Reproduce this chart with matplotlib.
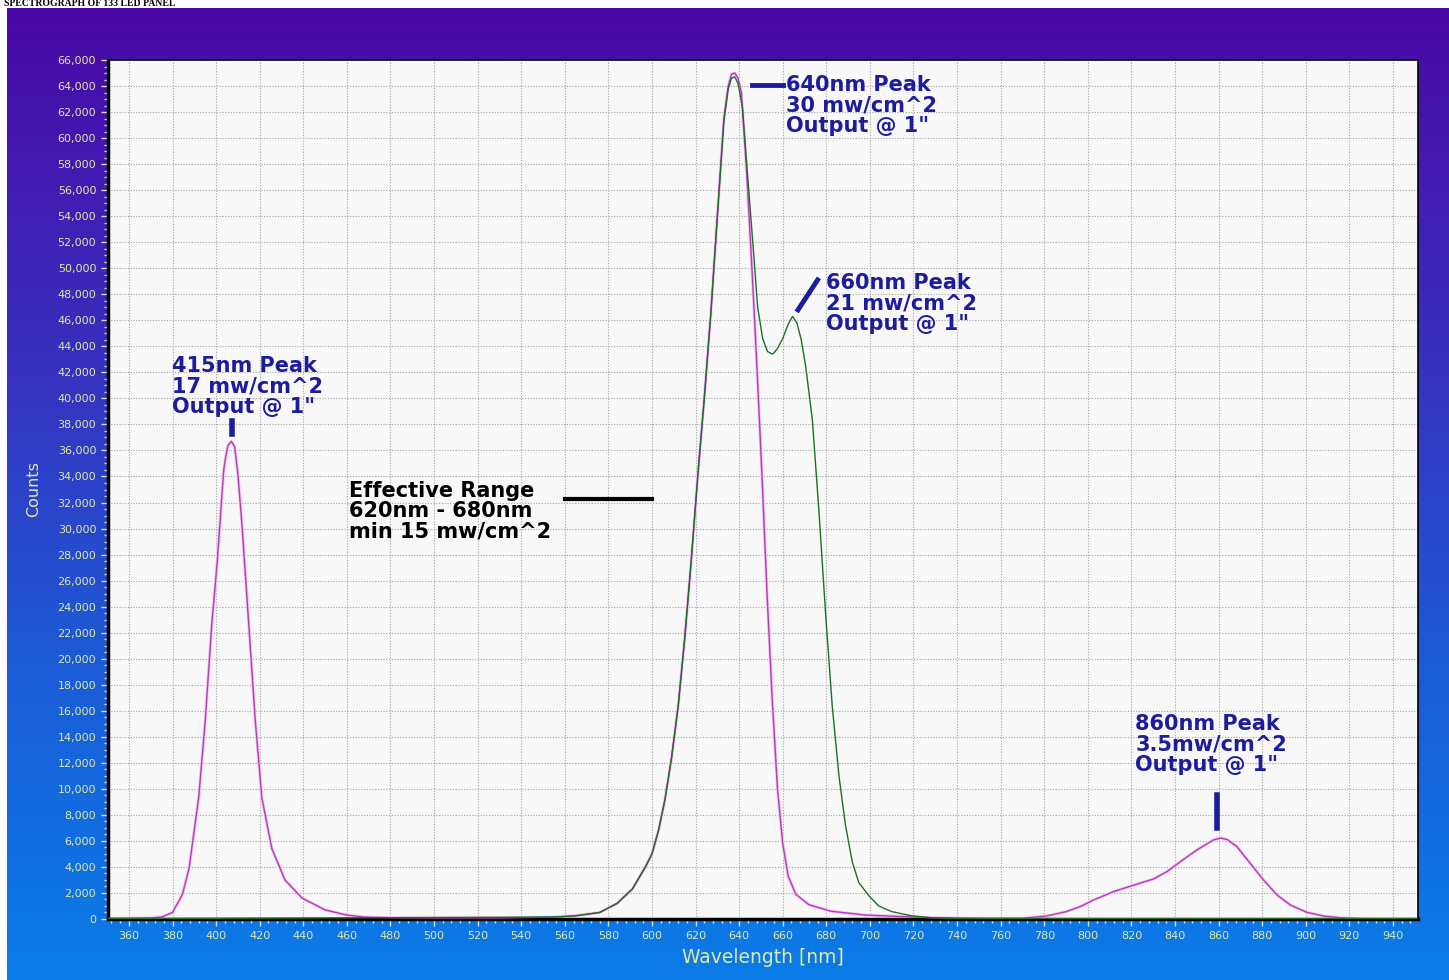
import numpy as np
import matplotlib.pyplot as plt
from matplotlib.ticker import MultipleLocator, FuncFormatter
from matplotlib.colors import LinearSegmentedColormap

# magenta trace (full panel)
pink_wl = [350, 360, 370, 375, 380, 384.6, 387.6, 392, 395, 398, 400.5, 403.5, 404.5, 405.5, 407, 408.5,
           410, 412, 415, 418, 421, 425.6, 431.6, 439.5, 450, 460, 468, 480, 500, 530, 555, 565,
           576, 584, 591, 597, 600, 603, 606, 609, 612, 615, 618, 621, 624, 627, 630, 633, 635,
           636.5, 638, 639.5, 641, 643.5, 646, 648, 650.5, 652.8, 655.2, 657.6, 660, 662.5, 666, 672,
           682, 698, 713, 728, 745, 760, 770, 781, 790, 796.5, 802.6, 811.8, 821, 830.2, 836.3,
           842.4, 850, 857.7, 861, 864, 868.4, 874.5, 880.6, 886.8, 892.9, 900.5, 908.2, 915.8,
           923.5, 935, 951]
pink_counts = [50, 60, 80, 150, 500, 1900, 3900, 9300, 15200, 22600, 27400, 34500, 35600, 36400, 36700, 36300,
               34200, 30000, 22600, 15200, 9300, 5400, 3000, 1600, 700, 300, 150, 100, 80, 80, 150, 250,
               500, 1200, 2300, 4000, 5000, 6800, 9200, 12400, 16300, 21500, 27500, 34000, 40000, 46500, 54000, 61500, 64000,
               64900, 65000, 64600, 63500, 57300, 49600, 43000, 34000, 25000, 16800, 10000, 5800, 3300, 1900, 1100,
               600, 300, 200, 100, 60, 40, 50, 230, 560, 950, 1460, 2100, 2600, 3080, 3640,
               4400, 5300, 6080, 6220, 6100, 5560, 4280, 3000, 1850, 1080, 510, 230, 100,
               30, 10, 10]

# green trace (red channel only)
green_wl = [350, 555, 565, 576, 584, 591, 597, 600, 603, 606, 609, 612, 615, 618, 621, 624, 627, 630, 633,
            635, 636.5, 638, 639.5, 641.5, 643.8, 646.2, 648.5, 650.8, 653, 655.4, 657.5, 660, 662.5, 664.5,
            666.5, 668.5, 670.5, 673.6, 676.6, 679.7, 682.7, 685.8, 688.8, 691.9, 694.9, 699.5, 704, 710,
            719, 728, 740, 951]
green_counts = [20, 150, 250, 500, 1200, 2300, 4000, 5000, 6800, 9200, 12400, 16300, 21500, 27500, 34000, 40000, 46500, 54000, 61300,
                63800, 64600, 64700, 64200, 62400, 57300, 52150, 47000, 44600, 43600, 43400, 43800, 44600, 45700, 46300,
                45800, 44500, 42500, 38350, 31360, 23400, 16400, 11000, 7200, 4400, 2800, 1800, 1000, 570,
                250, 100, 30, 20]

x_ticks = list(range(360, 941, 20))
y_ticks = list(range(0, 66001, 2000))

ann_color = "#1c1c9c"
tick_color = "#e0eaa4"

fig = plt.figure(figsize=(14.49, 9.8), dpi=100, facecolor="white")

# gradient backdrop
bg = fig.add_axes([7 / 1449, 0, 1 - 7 / 1449, 972 / 980])
cmap = LinearSegmentedColormap.from_list("bg", ["#4a08a6", "#3a2cbc", "#1c5ad6", "#0a7ce8"])
bg.imshow(np.linspace(0, 1, 256).reshape(-1, 1), aspect="auto", cmap=cmap, extent=[0, 1, 0, 1])
bg.set_axis_off()

fig.text(0.003, 1 - 4 / 980, "SPECTROGRAPH OF 133 LED PANEL", family="Liberation Serif",
         weight="bold", fontsize=7, color="black", va="center", ha="left")

ax = fig.add_axes([108 / 1449, 61 / 980, 1310 / 1449, 859 / 980])
ax.set_facecolor("#f8f8f8")

ax.plot(pink_wl, pink_counts, color="#f4c4f4", lw=2.2, zorder=2)
ax.plot(pink_wl, pink_counts, color="#b43cb4", lw=1.0, zorder=3)
ax.plot(green_wl, green_counts, color="#1f6e2a", lw=1.0, zorder=4)

ax.set_xlim(350.4, 951.5)
ax.set_ylim(0, 66000)

ax.set_xticks(x_ticks)
ax.xaxis.set_minor_locator(MultipleLocator(4))
ax.set_yticks(y_ticks)
ax.yaxis.set_minor_locator(MultipleLocator(500))
ax.yaxis.set_major_formatter(FuncFormatter(lambda v, p: f"{int(v):,}"))

ax.grid(True, which="major", color="#a4a4a4", linestyle=(0, (1, 1.5)), lw=0.8, zorder=1)
ax.tick_params(which="both", direction="out", colors="#dddddd", labelcolor=tick_color,
               labelsize=8, labelfontfamily="DejaVu Sans")
ax.tick_params(which="major", length=5, width=1)
ax.tick_params(which="minor", length=3, width=1)

for side, sp in ax.spines.items():
    sp.set_color("black")
    sp.set_linewidth(2.5 if side in ("left", "bottom") else 1.2)

ax.set_xlabel("Wavelength [nm]", color=tick_color, fontsize=13.5, family="DejaVu Sans", labelpad=5)
ax.set_ylabel("Counts", color=tick_color, fontsize=11.5, family="DejaVu Sans", labelpad=12)

ann = dict(color=ann_color, fontsize=15, weight="bold", family="DejaVu Sans",
           linespacing=1.02, va="top", ha="left", zorder=6)

ax.text(379.7, 43250, "415nm Peak\n17 mw/cm^2\nOutput @ 1\"", **ann)
ax.plot([407.3, 407.3], [37300, 38300], color=ann_color, lw=4, zorder=6)

ax.text(661.5, 64840, "640nm Peak\n30 mw/cm^2\nOutput @ 1\"", **ann)
ax.plot([646, 660], [64050, 64050], color=ann_color, lw=3.5, zorder=6)

ax.text(680, 49630, "660nm Peak\n21 mw/cm^2\nOutput @ 1\"", **ann)
ax.plot([667, 676], [46800, 49100], color=ann_color, lw=3.5, zorder=6)

ax.text(821.7, 15750, "860nm Peak\n3.5mw/cm^2\nOutput @ 1\"", **ann)
ax.plot([859.3, 859.3], [7000, 9500], color=ann_color, lw=4, zorder=6)

ax.text(461, 33650, "Effective Range\n620nm - 680nm\nmin 15 mw/cm^2", **dict(ann, color="black"))
ax.plot([560, 600], [32270, 32270], color="black", lw=3, zorder=6)

fig.savefig("out.png", dpi=100, facecolor=fig.get_facecolor())
